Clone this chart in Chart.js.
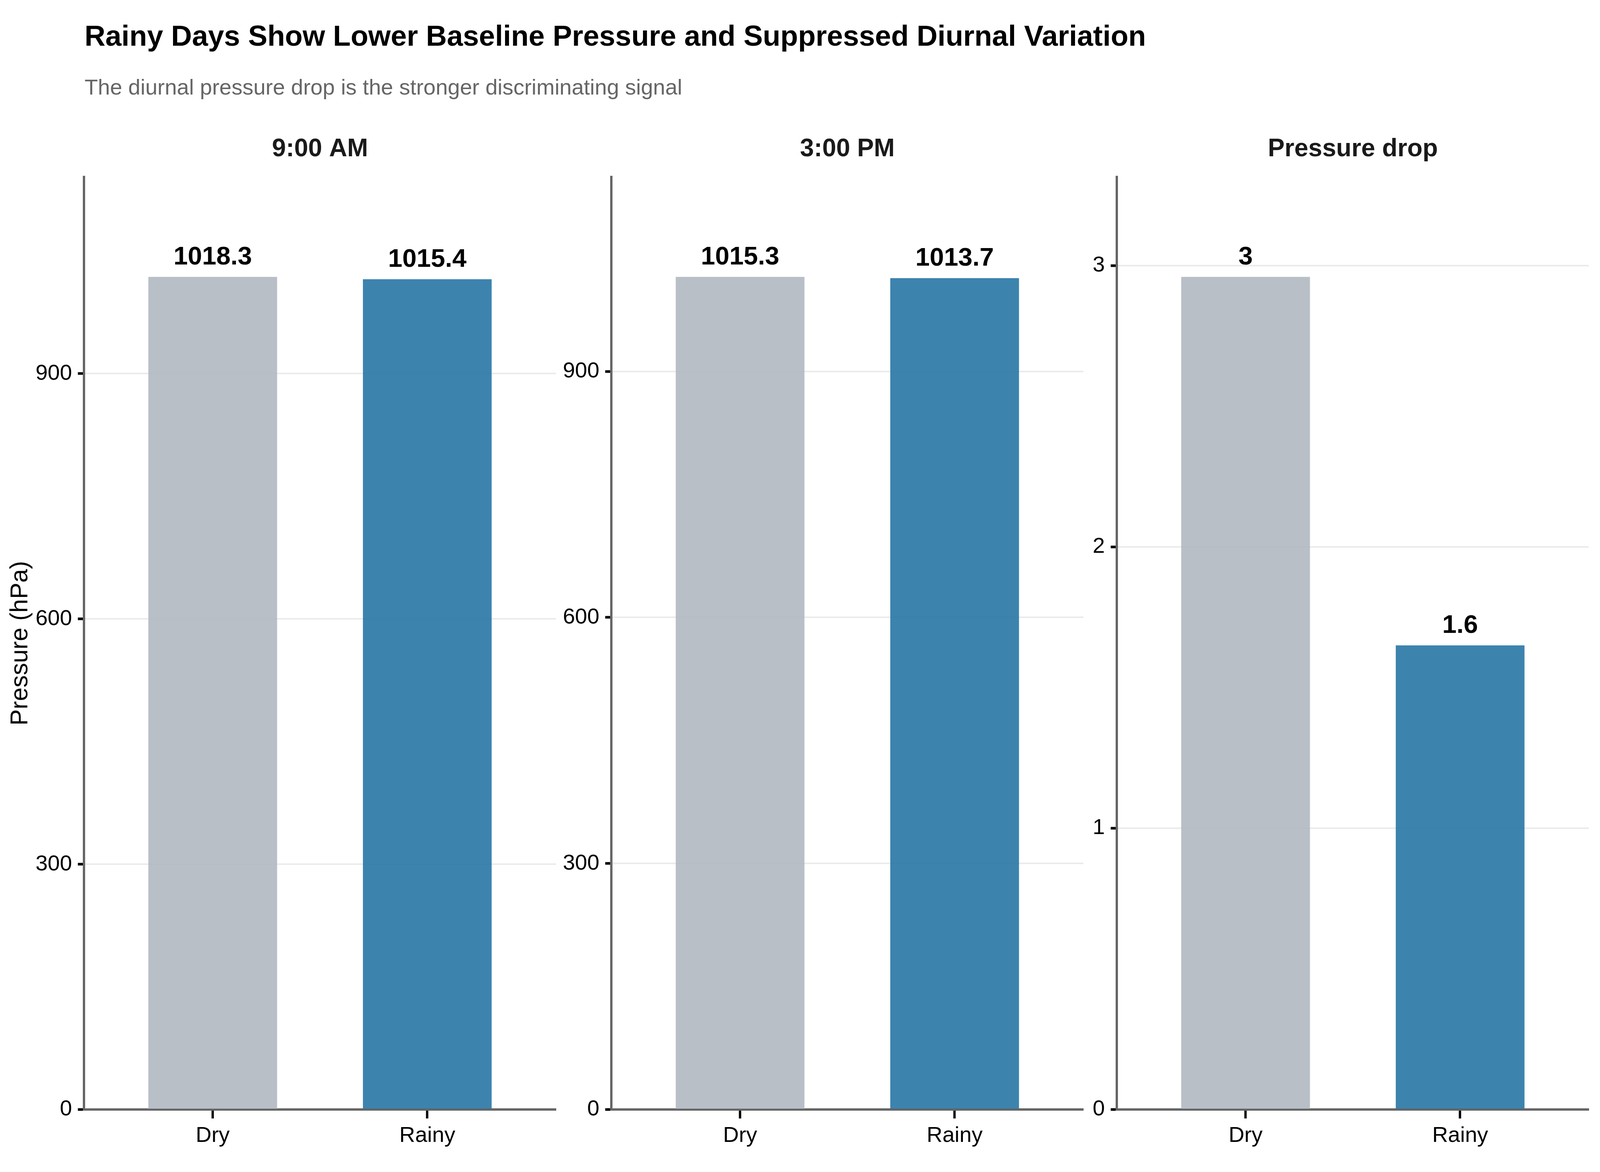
<!DOCTYPE html>
<html>
<head>
<meta charset="utf-8">
<script src="https://cdn.jsdelivr.net/npm/chart.js@4.4.1/dist/chart.umd.min.js"></script>
<style>
  html, body { margin: 0; padding: 0; background: #fff; overflow: hidden; }
  body { position: relative; font-family: "Liberation Sans", Arial, sans-serif; }
  .txt { position: absolute; line-height: 1; white-space: nowrap; }
  .panel { position: absolute; }
</style>
</head>
<body>
<div id="title" class="txt">Rainy Days Show Lower Baseline Pressure and Suppressed Diurnal Variation</div>
<div id="subtitle" class="txt">The diurnal pressure drop is the stronger discriminating signal</div>
<script>
// data
const groups = ['Dry', 'Rainy'];
const pressure9am = [1018.3, 1015.4];
const pressure3pm = [1015.3, 1013.7];
const pressureDrop = [2.96, 1.65];
const pressureTicks = [0, 300, 600, 900];
const dropTicks = [0, 1, 2, 3];
const panelTitles = ['9:00 AM', '3:00 PM', 'Pressure drop'];
const barColors = ['rgba(176,184,193,0.9)', 'rgba(39,117,165,0.9)'];

const FONT = '"Liberation Sans", Arial, sans-serif';
Chart.defaults.font.family = FONT;

// layout is designed on a 6000x3000 page and fitted to the real window
const W = window.innerWidth, H = window.innerHeight;
const sx = W / 6000, sy = H / 3000;
const f = Math.min(sx, sy) + 0.2 * (Math.max(sx, sy) - Math.min(sx, sy));
document.body.style.width = W + 'px';
document.body.style.height = H + 'px';

function placeText(id, left, baseline, size, weight, color) {
    let el = document.getElementById(id);
    el.style.left = left + 'px';
    el.style.top = (baseline - 0.8465 * size) + 'px';
    el.style.fontSize = size + 'px';
    el.style.fontWeight = weight;
    el.style.color = color;
}
placeText('title', 317 * sx, 118 * sy, 99 * f, 'bold', '#000');
placeText('subtitle', 317 * sx, 242 * sy, 75 * f, 'normal', '#666');

const panelTop = 300 * sy;
const plotTop = 453 * sy;
const plotBottom = 2840 * sy;
const xAxisHeight = 160 * sy;

// R-style rounding: 3.0 -> "3"
function formatValue(v) {
    return String(Number(v.toFixed(1)));
}

// numbers above bars
const valueLabels = {
    id: 'valueLabels',
    afterDatasetsDraw(chart) {
        const ctx = chart.ctx;
        const meta = chart.getDatasetMeta(0);
        const vals = chart.data.datasets[0].data;
        ctx.save();
        ctx.font = 'bold ' + (88 * f) + 'px ' + FONT;
        ctx.fillStyle = '#000';
        ctx.textAlign = 'center';
        ctx.textBaseline = 'alphabetic';
        meta.data.forEach((bar, i) => {
            ctx.fillText(formatValue(vals[i].y), bar.x, bar.y - 32 * sy);
        });
        ctx.restore();
    }
};

function makePanel(title, values, yTicks, canvasLeft, plotLeft, plotRight, yTitle) {
    let box = document.createElement('div');
    box.className = 'panel';
    let left = canvasLeft * sx;
    let right = plotRight * sx + 10;
    box.style.left = left + 'px';
    box.style.top = panelTop + 'px';
    box.style.width = (right - left) + 'px';
    box.style.height = (plotBottom - panelTop + xAxisHeight + 10) + 'px';
    let canvas = document.createElement('canvas');
    box.appendChild(canvas);
    document.body.appendChild(box);

    const titleSize = 86 * f;
    const titlePadTop = 382 * sy - panelTop - 0.6 * titleSize;
    const titlePadBottom = plotTop - panelTop - titlePadTop - 1.2 * titleSize;
    const yTitleSize = 84 * f;
    const tickFont = 75 * f;

    return new Chart(canvas.getContext('2d'), {
        type: 'bar',
        data: {
            datasets: [{
                data: values.map((v, i) => ({ x: i + 1, y: v })),
                backgroundColor: barColors,
                borderWidth: 0,
                categoryPercentage: 1,
                barPercentage: 0.6
            }]
        },
        options: {
            responsive: true,
            maintainAspectRatio: false,
            animation: false,
            layout: { padding: { left: 0, right: 10, top: 0, bottom: 10 } },
            plugins: {
                legend: { display: false },
                tooltip: { enabled: false },
                title: {
                    display: true,
                    text: title,
                    fullSize: false,
                    color: '#1a1a1a',
                    font: { size: titleSize, weight: 'bold', lineHeight: 1.2 },
                    padding: { top: titlePadTop, bottom: titlePadBottom }
                }
            },
            scales: {
                x: {
                    type: 'linear',
                    offset: false,
                    min: 0.4,
                    max: 2.6,
                    afterBuildTicks: s => { s.ticks = groups.map((g, i) => ({ value: i + 1 })); },
                    afterFit: s => { s.height = xAxisHeight; },
                    ticks: {
                        callback: (v, i) => groups[i],
                        color: '#000',
                        font: { size: tickFont },
                        padding: 43 * sy - 23 * sy - 0.16 * tickFont,
                        maxRotation: 0
                    },
                    grid: { offset: false, drawOnChartArea: false, drawTicks: true, tickLength: 23 * sy, tickColor: '#000', tickWidth: 8 * f },
                    border: { display: true, color: '#666', width: 8 * f }
                },
                y: {
                    min: 0,
                    max: Math.max(...values) * 1.12,
                    afterBuildTicks: s => { s.ticks = yTicks.map(v => ({ value: v })); },
                    afterFit: s => { s.width = (plotLeft - canvasLeft) * sx; },
                    ticks: { color: '#000', font: { size: tickFont }, padding: 22 * sx },
                    grid: { color: '#ebebeb', lineWidth: 5.5 * f, drawTicks: true, tickLength: 23 * sx, tickColor: '#000', tickWidth: 9 * f },
                    border: { display: true, color: '#666', width: 8 * f },
                    title: {
                        display: yTitle !== null,
                        text: yTitle || '',
                        color: '#000',
                        font: { size: yTitleSize, lineHeight: 1.2 },
                        padding: { top: 77 * sx - 0.6 * yTitleSize, bottom: 0 }
                    }
                }
            }
        },
        plugins: [valueLabels]
    });
}

makePanel(panelTitles[0], pressure9am, pressureTicks, 0, 315, 2085, 'Pressure (hPa)');
makePanel(panelTitles[1], pressure3pm, pressureTicks, 2100, 2292, 4062, null);
makePanel(panelTitles[2], pressureDrop, dropTicks, 4075, 4188, 5958, null);
</script>
</body>
</html>
